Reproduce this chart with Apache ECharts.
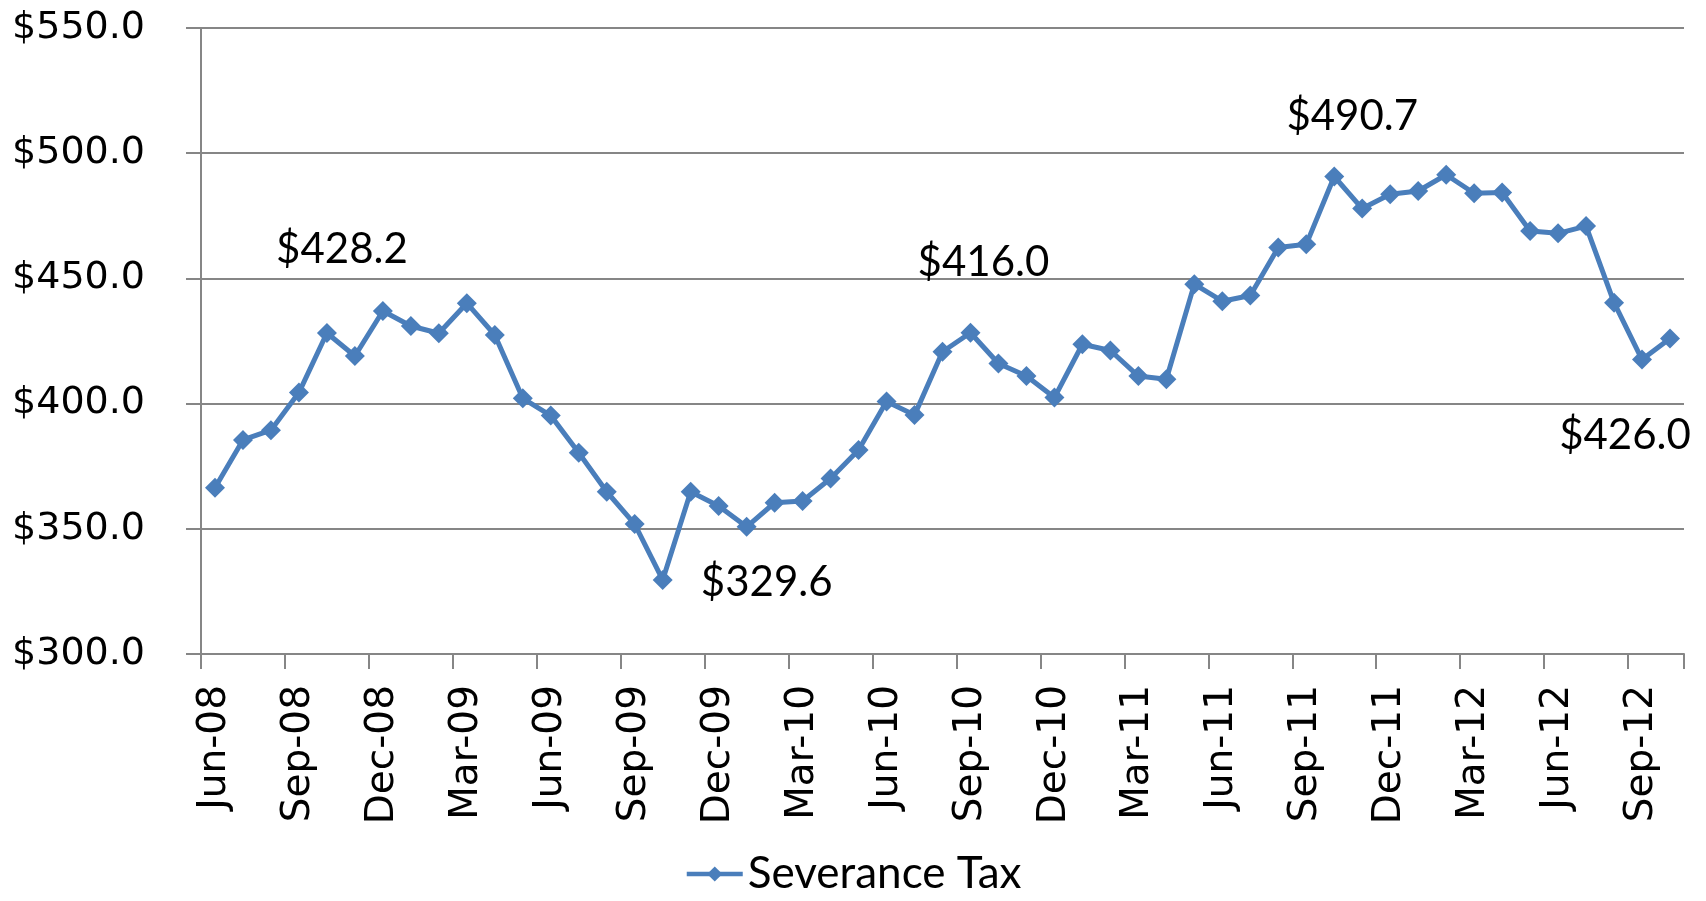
<!DOCTYPE html>
<html>
<head>
<meta charset="utf-8">
<script src="https://cdn.jsdelivr.net/npm/echarts@6/dist/echarts.min.js"></script>
<style>
  html, body { margin: 0; padding: 0; background: #fff; }
  #chart { width: 1706px; height: 901px; }
</style>
</head>
<body>
<div id="chart"></div>
<script>
var months = ['Jun-08','Jul-08','Aug-08','Sep-08','Oct-08','Nov-08','Dec-08','Jan-09','Feb-09','Mar-09','Apr-09','May-09',
  'Jun-09','Jul-09','Aug-09','Sep-09','Oct-09','Nov-09','Dec-09','Jan-10','Feb-10','Mar-10','Apr-10','May-10',
  'Jun-10','Jul-10','Aug-10','Sep-10','Oct-10','Nov-10','Dec-10','Jan-11','Feb-11','Mar-11','Apr-11','May-11',
  'Jun-11','Jul-11','Aug-11','Sep-11','Oct-11','Nov-11','Dec-11','Jan-12','Feb-12','Mar-12','Apr-12','May-12',
  'Jun-12','Jul-12','Aug-12','Sep-12','Oct-12'];

var severanceTax = [366.4, 385.5, 389.4, 404.4, 428.2, 419.0, 437.0, 431.0, 428.1, 440.1,
  427.4, 402.1, 395.2, 380.4, 364.8, 351.9, 329.6, 364.8, 359.1, 350.8,
  360.4, 361.1, 370.1, 381.5, 400.8, 395.4, 420.7, 428.3, 416.0, 411.0,
  402.4, 423.7, 421.2, 411.0, 409.7, 447.7, 440.9, 443.2, 462.3, 463.6,
  490.7, 477.9, 483.6, 484.9, 491.4, 484.0, 484.3, 468.9, 468.0, 470.9,
  440.3, 417.6, 426.0];

// points that carry a value callout
var labeledPoints = [4, 16, 28, 40, 52];

var yTicks = [300, 350, 400, 450, 500, 550];

// where each callout sits relative to its point
var labelOffsets = {
  4: [15, -84],
  16: [104, 3],
  28: [-15, -101],
  40: [18, -60],
  52: [-45, 97]
};

var blue = '#4a7ebb';
var gray = '#868686';

var seriesData = severanceTax.map(function (v, i) {
  if (labeledPoints.indexOf(i) < 0) return v;
  return {
    value: v,
    label: {
      show: true,
      position: 'inside',
      offset: labelOffsets[i],
      formatter: function (p) { return '$' + p.value.toFixed(1); },
      fontFamily: 'Lato',
      fontSize: 42,
      color: '#000'
    }
  };
});

var chart = echarts.init(document.getElementById('chart'));
chart.setOption({
  animation: false,
  grid: { left: 201, right: 22, top: 28, bottom: 247, containLabel: false },
  legend: {
    bottom: 0,
    left: 'center',
    itemWidth: 56,
    itemHeight: 19,
    itemGap: 4,
    lineStyle: { width: 4.5 },
    textStyle: { fontFamily: 'Lato', fontSize: 44, color: '#000' },
    data: ['Severance Tax']
  },
  xAxis: {
    type: 'category',
    data: months,
    boundaryGap: true,
    axisLine: { lineStyle: { color: gray, width: 2 } },
    axisTick: { show: true, interval: 2, length: 15, lineStyle: { color: gray, width: 2 } },
    axisLabel: {
      interval: 2,
      rotate: 90,
      margin: 31,
      fontFamily: 'DejaVu Sans',
      fontSize: 39,
      color: '#000'
    }
  },
  yAxis: {
    type: 'value',
    min: yTicks[0],
    max: yTicks[yTicks.length - 1],
    interval: 50,
    axisLine: { show: true, lineStyle: { color: gray, width: 2 } },
    axisTick: { show: true, length: 15, lineStyle: { color: gray, width: 2 } },
    splitLine: { lineStyle: { color: gray, width: 2 } },
    axisLabel: {
      margin: 56,
      fontFamily: 'DejaVu Sans',
      fontSize: 38,
      color: '#000',
      formatter: function (v) { return '$' + v.toFixed(1); }
    }
  },
  series: [{
    name: 'Severance Tax',
    type: 'line',
    data: seriesData,
    symbol: 'diamond',
    symbolSize: 20,
    showAllSymbol: true,
    lineStyle: { color: blue, width: 5 },
    itemStyle: { color: blue },
    label: { show: false }
  }]
});
window.addEventListener('resize', chart.resize);
</script>
</body>
</html>
